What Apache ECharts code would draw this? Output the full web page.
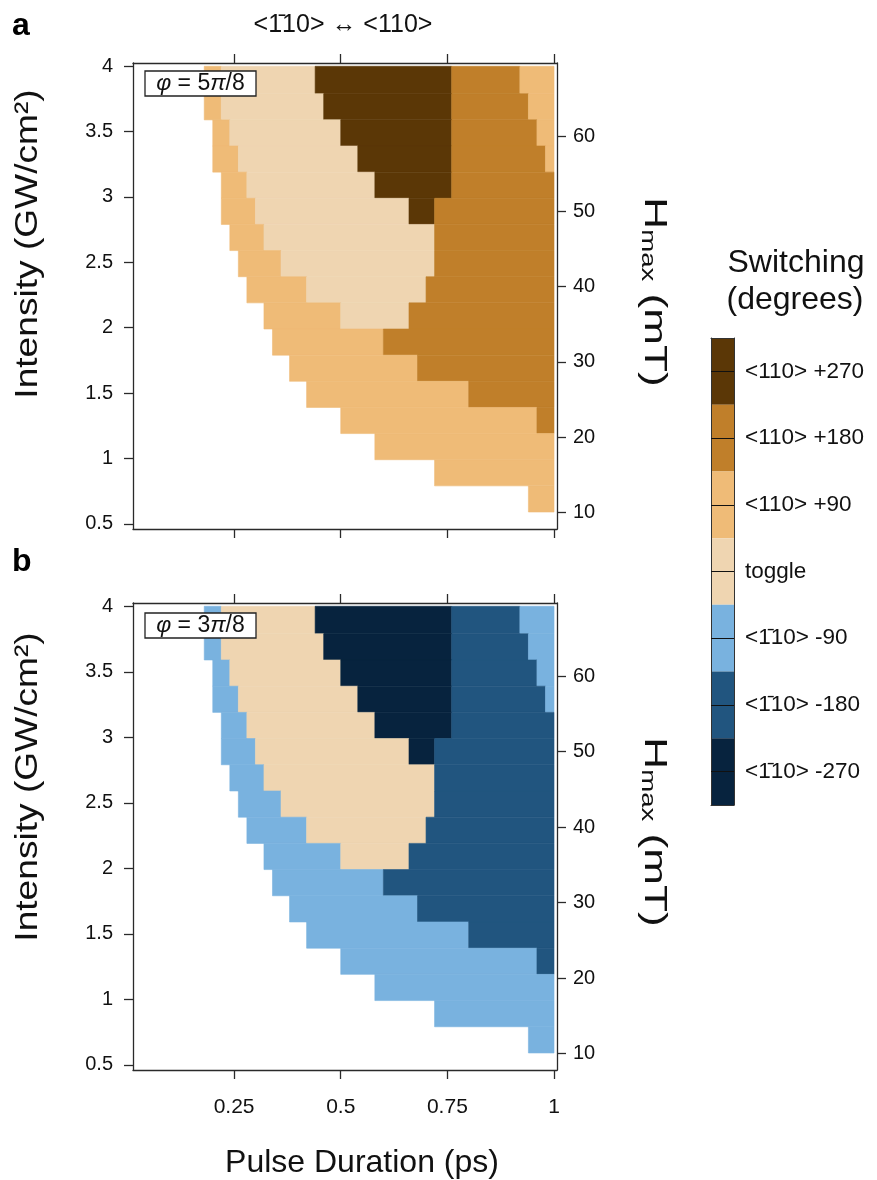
<!DOCTYPE html>
<html>
<head>
<meta charset="utf-8">
<script src="https://cdn.jsdelivr.net/npm/echarts@6/dist/echarts.min.js"></script>
<style>
  html, body { margin: 0; padding: 0; background: #fff; }
  #chart { width: 877px; height: 1180px; }
</style>
</head>
<body>
<div id="chart"></div>
<script>
// axis ticks
const durationTicks = [0.25, 0.5, 0.75, 1];                 // ps
const intensityTicks = [0.5, 1, 1.5, 2, 2.5, 3, 3.5, 4];    // GW/cm2
const fieldTicks = [10, 20, 30, 40, 50, 60];                // mT

// row edges of the simulation grid (intensity), top to bottom
const intensityEdges = [4.0, 3.79, 3.59, 3.39, 3.19, 2.99, 2.79, 2.59, 2.39,
  2.19, 1.99, 1.79, 1.59, 1.39, 1.19, 0.99, 0.79, 0.59];

// one entry per row: [from ps, to ps, code]
// code: 0 toggle, 1 = 90, 2 = 180, 3 = 270 (sign gives direction)
const rowsA = [
  [[0.18, 0.22, 1], [0.22, 0.44, 0], [0.44, 0.76, 3], [0.76, 0.92, 2], [0.92, 1, 1]],
  [[0.18, 0.22, 1], [0.22, 0.46, 0], [0.46, 0.76, 3], [0.76, 0.94, 2], [0.94, 1, 1]],
  [[0.20, 0.24, 1], [0.24, 0.50, 0], [0.50, 0.76, 3], [0.76, 0.96, 2], [0.96, 1, 1]],
  [[0.20, 0.26, 1], [0.26, 0.54, 0], [0.54, 0.76, 3], [0.76, 0.98, 2], [0.98, 1, 1]],
  [[0.22, 0.28, 1], [0.28, 0.58, 0], [0.58, 0.76, 3], [0.76, 1, 2]],
  [[0.22, 0.30, 1], [0.30, 0.66, 0], [0.66, 0.72, 3], [0.72, 1, 2]],
  [[0.24, 0.32, 1], [0.32, 0.72, 0], [0.72, 1, 2]],
  [[0.26, 0.36, 1], [0.36, 0.72, 0], [0.72, 1, 2]],
  [[0.28, 0.42, 1], [0.42, 0.70, 0], [0.70, 1, 2]],
  [[0.32, 0.50, 1], [0.50, 0.66, 0], [0.66, 1, 2]],
  [[0.34, 0.60, 1], [0.60, 1, 2]],
  [[0.38, 0.68, 1], [0.68, 1, 2]],
  [[0.42, 0.80, 1], [0.80, 1, 2]],
  [[0.50, 0.96, 1], [0.96, 1, 2]],
  [[0.58, 1, 1]],
  [[0.72, 1, 1]],
  [[0.94, 1, 1]]
];

const rowsB = [
  [[0.18, 0.22, -1], [0.22, 0.44, 0], [0.44, 0.76, -3], [0.76, 0.92, -2], [0.92, 1, -1]],
  [[0.18, 0.22, -1], [0.22, 0.46, 0], [0.46, 0.76, -3], [0.76, 0.94, -2], [0.94, 1, -1]],
  [[0.20, 0.24, -1], [0.24, 0.50, 0], [0.50, 0.76, -3], [0.76, 0.96, -2], [0.96, 1, -1]],
  [[0.20, 0.26, -1], [0.26, 0.54, 0], [0.54, 0.76, -3], [0.76, 0.98, -2], [0.98, 1, -1]],
  [[0.22, 0.28, -1], [0.28, 0.58, 0], [0.58, 0.76, -3], [0.76, 1, -2]],
  [[0.22, 0.30, -1], [0.30, 0.66, 0], [0.66, 0.72, -3], [0.72, 1, -2]],
  [[0.24, 0.32, -1], [0.32, 0.72, 0], [0.72, 1, -2]],
  [[0.26, 0.36, -1], [0.36, 0.72, 0], [0.72, 1, -2]],
  [[0.28, 0.42, -1], [0.42, 0.70, 0], [0.70, 1, -2]],
  [[0.32, 0.50, -1], [0.50, 0.66, 0], [0.66, 1, -2]],
  [[0.34, 0.60, -1], [0.60, 1, -2]],
  [[0.38, 0.68, -1], [0.68, 1, -2]],
  [[0.42, 0.80, -1], [0.80, 1, -2]],
  [[0.50, 0.96, -1], [0.96, 1, -2]],
  [[0.58, 1, -1]],
  [[0.72, 1, -1]],
  [[0.94, 1, -1]]
];

// colour bar
const legendLabels = ['<110> +270', '<110> +180', '<110> +90', 'toggle',
  '<1\u030410> -90', '<1\u030410> -180', '<1\u030410> -270'];
const legendCodes = [3, 2, 1, 0, -1, -2, -3];

const codeColor = {
  '3': '#5b3706', '2': '#c07f2a', '1': '#efbb77', '0': '#efd5b1',
  '-1': '#79b2df', '-2': '#21557f', '-3': '#07233e'
};

const FONT = '"Liberation Sans", Arial, Helvetica, sans-serif';

function toCells(rows) {
  const out = [];
  rows.forEach((row, i) => {
    row.forEach(([x0, x1, c]) => {
      out.push([x0, x1, intensityEdges[i], intensityEdges[i + 1], c]);
    });
  });
  return out;
}

function renderCell(params, api) {
  const p0 = api.coord([api.value(0), api.value(2)]);
  const p1 = api.coord([api.value(1), api.value(3)]);
  const c = codeColor[String(api.value(4))];
  return {
    type: 'rect',
    shape: { x: p0[0], y: p0[1], width: p1[0] - p0[0], height: p1[1] - p0[1] },
    style: { fill: c, stroke: c, lineWidth: 0.6 }
  };
}

const lineStyle = { color: '#2a2a2a', width: 1.3 };
const tickStyle = { color: '#2a2a2a', width: 1.3 };
const labelStyle = { color: '#111', fontSize: 20, fontFamily: FONT };

function xAxes(grid, withLabels) {
  const base = {
    gridIndex: grid, type: 'value', min: 0.013, max: 1.007,
    axisLine: { show: true, onZero: false, lineStyle },
    splitLine: { show: false }
  };
  return [
    Object.assign({}, base, {
      position: 'bottom',
      axisTick: { show: true, length: 9, lineStyle: tickStyle, customValues: durationTicks },
      axisLabel: Object.assign({ show: withLabels, margin: 27, customValues: durationTicks }, labelStyle, { fontSize: 21 })
    }),
    Object.assign({}, base, {
      position: 'top',
      axisTick: { show: true, length: 9, lineStyle: tickStyle, customValues: durationTicks },
      axisLabel: { show: false }
    })
  ];
}

function yAxes(grid) {
  return [
    {
      gridIndex: grid, type: 'value', position: 'left', min: 0.46, max: 4.025,
      axisLine: { show: true, onZero: false, lineStyle },
      axisTick: { show: true, length: 9, lineStyle: tickStyle, customValues: intensityTicks },
      axisLabel: Object.assign({ margin: 20, customValues: intensityTicks }, labelStyle),
      splitLine: { show: false }
    },
    {
      gridIndex: grid, type: 'value', position: 'right', min: 7.81, max: 69.7,
      axisLine: { show: true, onZero: false, lineStyle },
      axisTick: { show: true, length: 9, lineStyle: tickStyle, customValues: fieldTicks },
      axisLabel: Object.assign({ margin: 16, customValues: fieldTicks }, labelStyle),
      splitLine: { show: false }
    }
  ];
}

function fieldTitle(y) {
  return {
    type: 'text', x: 655, y: y, rotation: -Math.PI / 2, scaleX: 1.38, z: 100,
    style: {
      text: '{h|H}{s|max}{h| (mT)}', align: 'center', verticalAlign: 'middle', fill: '#111',
      rich: {
        h: { fontSize: 32, fontFamily: FONT, fill: '#111', verticalAlign: 'bottom', lineHeight: 34 },
        s: { fontSize: 20, fontFamily: FONT, fill: '#111', verticalAlign: 'bottom', lineHeight: 26 }
      }
    }
  };
}

function intensityTitle(y) {
  return {
    type: 'text', x: 28, y: y, rotation: Math.PI / 2, scaleX: 1.16, z: 100,
    style: { text: 'Intensity (GW/cm\u00b2)', font: '32px ' + FONT, fill: '#111', align: 'center', verticalAlign: 'middle' }
  };
}

function phiLabel(y, text) {
  return [
    { type: 'rect', shape: { x: 145, y: y, width: 111, height: 25 }, z: 100,
      style: { fill: '#fff', stroke: '#222', lineWidth: 1.3 } },
    { type: 'text', x: 200.5, y: y + 13, z: 101,
      style: { text: text, align: 'center', verticalAlign: 'middle',
        font: '23px ' + FONT, fill: '#111',
        rich: { i: { fontStyle: 'italic', fontSize: 23, fontFamily: FONT, fill: '#111' } } } }
  ];
}

const chart = echarts.init(document.getElementById('chart'), null, { renderer: 'canvas' });

const plainAxisLine = { show: true, onZero: false, lineStyle: { color: '#333', width: 1 } };

chart.setOption({
  backgroundColor: '#fff',
  animation: false,
  grid: [
    { left: 133, top: 63, width: 424, height: 466 },
    { left: 133, top: 603, width: 424, height: 467 },
    { left: 711, top: 338, width: 23, height: 467 }
  ],
  xAxis: [].concat(xAxes(0, false), xAxes(1, true), [
    { gridIndex: 2, type: 'value', min: 0, max: 1, position: 'bottom', z: 5,
      axisLine: plainAxisLine, axisTick: { show: false }, axisLabel: { show: false }, splitLine: { show: false } },
    { gridIndex: 2, type: 'value', min: 0, max: 1, position: 'top', z: 5,
      axisLine: plainAxisLine, axisTick: { show: false }, axisLabel: { show: false }, splitLine: { show: false } }
  ]),
  yAxis: [].concat(yAxes(0), yAxes(1), [
    {
      gridIndex: 2, type: 'category', data: legendLabels, inverse: true, position: 'right', z: 5,
      axisLine: plainAxisLine,
      axisTick: { show: true, inside: true, length: 23, alignWithLabel: true, lineStyle: { color: '#111', width: 1 } },
      axisLabel: { margin: 11, color: '#111', fontSize: 22.5, fontFamily: FONT },
      splitLine: { show: false }
    },
    {
      gridIndex: 2, type: 'category', data: legendLabels, inverse: true, position: 'left', z: 5,
      axisLine: plainAxisLine, axisTick: { show: false }, axisLabel: { show: false }, splitLine: { show: false }
    }
  ]),
  series: [
    {
      type: 'custom', name: 'panel a', xAxisIndex: 0, yAxisIndex: 0,
      renderItem: renderCell, encode: { x: [0, 1], y: [2, 3] },
      data: toCells(rowsA), silent: true
    },
    {
      type: 'custom', name: 'panel b', xAxisIndex: 2, yAxisIndex: 2,
      renderItem: renderCell, encode: { x: [0, 1], y: [2, 3] },
      data: toCells(rowsB), silent: true
    },
    {
      type: 'bar', name: 'legend', xAxisIndex: 4, yAxisIndex: 4,
      barWidth: '100%', silent: true,
      data: legendCodes.map(c => ({ value: 1, itemStyle: { color: codeColor[String(c)] } }))
    }
  ],
  graphic: [].concat([
    { type: 'text', left: 12, top: 10, z: 100,
      style: { text: 'a', font: 'bold 32px ' + FONT, fill: '#000' } },
    { type: 'text', left: 12, top: 546, z: 100,
      style: { text: 'b', font: 'bold 32px ' + FONT, fill: '#000' } },
    { type: 'text', x: 343, y: 25, z: 100,
      style: { text: '<1\u030410> \u2194 <110>', font: '25px ' + FONT, fill: '#111', align: 'center', verticalAlign: 'middle' } },
    intensityTitle(244),
    intensityTitle(787),
    fieldTitle(292),
    fieldTitle(832),
    { type: 'text', x: 362, y: 1163, z: 100,
      style: { text: 'Pulse Duration (ps)', font: '32px ' + FONT, fill: '#111', align: 'center', verticalAlign: 'middle' } },
    { type: 'text', x: 796, y: 263, z: 100,
      style: { text: 'Switching', font: '32px ' + FONT, fill: '#111', align: 'center', verticalAlign: 'middle' } },
    { type: 'text', x: 795, y: 300, z: 100,
      style: { text: '(degrees)', font: '32px ' + FONT, fill: '#111', align: 'center', verticalAlign: 'middle' } }
  ],
  phiLabel(71, '{i|\u03c6} = 5{i|\u03c0}/8'),
  phiLabel(613, '{i|\u03c6} = 3{i|\u03c0}/8'))
});
</script>
</body>
</html>
